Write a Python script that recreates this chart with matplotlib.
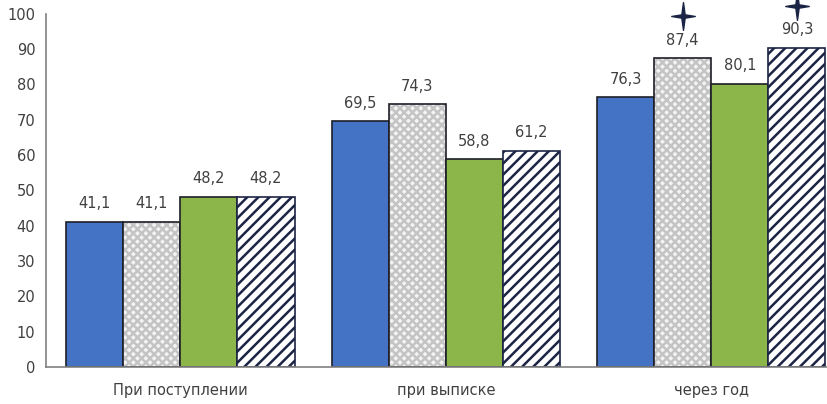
import matplotlib.pyplot as plt
import numpy as np
from matplotlib.path import Path

plt.rcParams['font.family'] = ['DejaVu Sans']
plt.rcParams['hatch.linewidth'] = 1.8

categories = ["При поступлении", "при выписке", "через год"]
s_blue = [41.1, 69.5, 76.3]
s_dots = [41.1, 74.3, 87.4]
s_green = [48.2, 58.8, 80.1]
s_stripes = [48.2, 61.2, 90.3]
# bars marked with a star (series index, category index)
starred = [(1, 2), (3, 2)]

# four-pointed star marker
star = Path([(0, 1), (0.12, 0.12), (0.85, 0), (0.12, -0.12), (0, -1),
             (-0.12, -0.12), (-0.85, 0), (-0.12, 0.12), (0, 1)],
            [Path.MOVETO] + [Path.LINETO] * 7 + [Path.CLOSEPOLY])

fig = plt.figure(figsize=(8.28, 4.04), dpi=100)
ax = fig.add_axes([0.056, 0.092, 0.944, 0.874])

x = np.arange(len(categories))
w = 0.215
offs = [-1.5 * w, -0.5 * w, 0.5 * w, 1.5 * w]
series = [s_blue, s_dots, s_green, s_stripes]
edge = '#1e1e28'

ax.bar(x + offs[0], s_blue, w, color='#4472c4', edgecolor=edge, linewidth=1.2)
ax.bar(x + offs[1], s_dots, w, color='#f4f4f4', edgecolor='#c4c4c4', hatch='xxxx', linewidth=0)
ax.bar(x + offs[1], s_dots, w, fill=False, edgecolor=edge, linewidth=1.2)
ax.bar(x + offs[2], s_green, w, color='#8db64a', edgecolor=edge, linewidth=1.2)
ax.bar(x + offs[3], s_stripes, w, color='white', edgecolor='#1c2446', hatch='///', linewidth=1.2)

for i, s in enumerate(series):
    for j, v in enumerate(s):
        ax.text(x[j] + offs[i], v + 3, f"{v:.1f}".replace('.', ','), ha='center',
                va='bottom', fontsize=10.5, color='#404040')

for i, j in starred:
    ax.plot(x[j] + offs[i], series[i][j] + 12, marker=star, markersize=20,
            color='#1c2446', linestyle='none', clip_on=False)

ax.set_xlim(-0.505, 2.44)
ax.set_ylim(0, 100)
ax.set_yticks(range(0, 101, 10))
ax.set_xticks(x)
ax.set_xticklabels(categories)
ax.tick_params(axis='both', length=0, labelsize=10.5, colors='#404040', pad=8)
ax.tick_params(axis='x', pad=12)
for sp in ['top', 'right']:
    ax.spines[sp].set_visible(False)
for sp in ['left', 'bottom']:
    ax.spines[sp].set_color('#808080')
    ax.spines[sp].set_linewidth(1.2)

fig.savefig('out.png', dpi=100)
